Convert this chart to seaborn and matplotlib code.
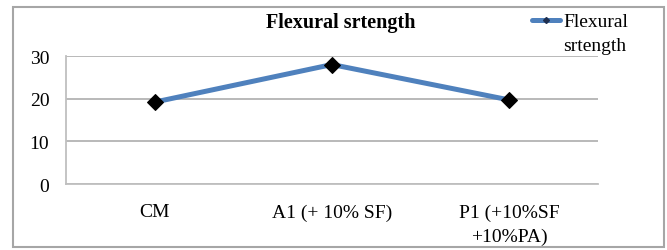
import matplotlib
matplotlib.use("Agg")
import matplotlib.pyplot as plt
import seaborn as sns
import pandas as pd
from matplotlib.patches import Rectangle
from matplotlib.lines import Line2D

categories = ["CM", "A1 (+ 10% SF)", "P1 (+10%SF\n+10%PA)"]
values = [19.2, 28.0, 19.7]
yticks = [0, 10, 20, 30]
title = "Flexural srtength"
series_name = "Flexural\nsrtength"

sns.set_theme(style="white")
plt.rcParams["font.family"] = ["Liberation Serif", "DejaVu Serif"]
plt.rcParams["text.color"] = "black"

df = pd.DataFrame({"cat": categories, "val": values})

W, H = 667, 251
FS = 14
fig = plt.figure(figsize=(W / 100, H / 100), dpi=100)
fig.patch.set_facecolor("white")
ax = fig.add_axes([66 / W, (H - 185) / H, (598 - 66) / W, (185 - 57) / H])

sns.lineplot(data=df, x="cat", y="val", ax=ax, color="#4F81BD", linewidth=3.6,
             marker="D", markersize=8, markerfacecolor="black",
             markeredgecolor="black", sort=False)

ax.set_xlim(-0.5, 2.5)
ax.set_ylim(0, 30)
ax.set_yticks(yticks)
ax.set_xlabel("")
ax.set_ylabel("")
ax.grid(axis="y", color="#A6A6A6", linewidth=1.1)
ax.grid(axis="x", visible=False)
for s in ["top", "right"]:
    ax.spines[s].set_visible(False)
for s in ["left", "bottom"]:
    ax.spines[s].set_color("#BFBFBF")
    ax.spines[s].set_linewidth(1.3)
ax.tick_params(axis="y", length=0, pad=12, labelsize=FS, colors="black")
ax.tick_params(axis="x", length=0, pad=14, labelsize=FS, colors="black")
for t in ax.get_xticklabels():
    t.set_linespacing(1.5)

fig.text(341 / W, (H - 23) / H, title, ha="center", va="center",
         fontsize=14.5, fontweight="bold", color="black")

# legend (handle aligned with first text line, as in the reference)
fig.lines.append(Line2D([532 / W, 560 / W], [(H - 21) / H, (H - 21) / H],
                        transform=fig.transFigure, color="#4F81BD", linewidth=3.6))
fig.lines.append(Line2D([546 / W], [(H - 21) / H], transform=fig.transFigure,
                        marker="D", markersize=3, color="#1F2F4F", linestyle="none"))
fig.text(563 / W, (H - 14) / H, series_name, ha="left", va="top",
         fontsize=FS, color="black", linespacing=1.55)

# outer border
fig.patches.append(Rectangle((13 / W, 3 / H), (664 - 13) / W, (243 - 3) / H,
                             transform=fig.transFigure, fill=False,
                             edgecolor="#A6A6A6", linewidth=1.5))

fig.savefig("out.png", dpi=100)
